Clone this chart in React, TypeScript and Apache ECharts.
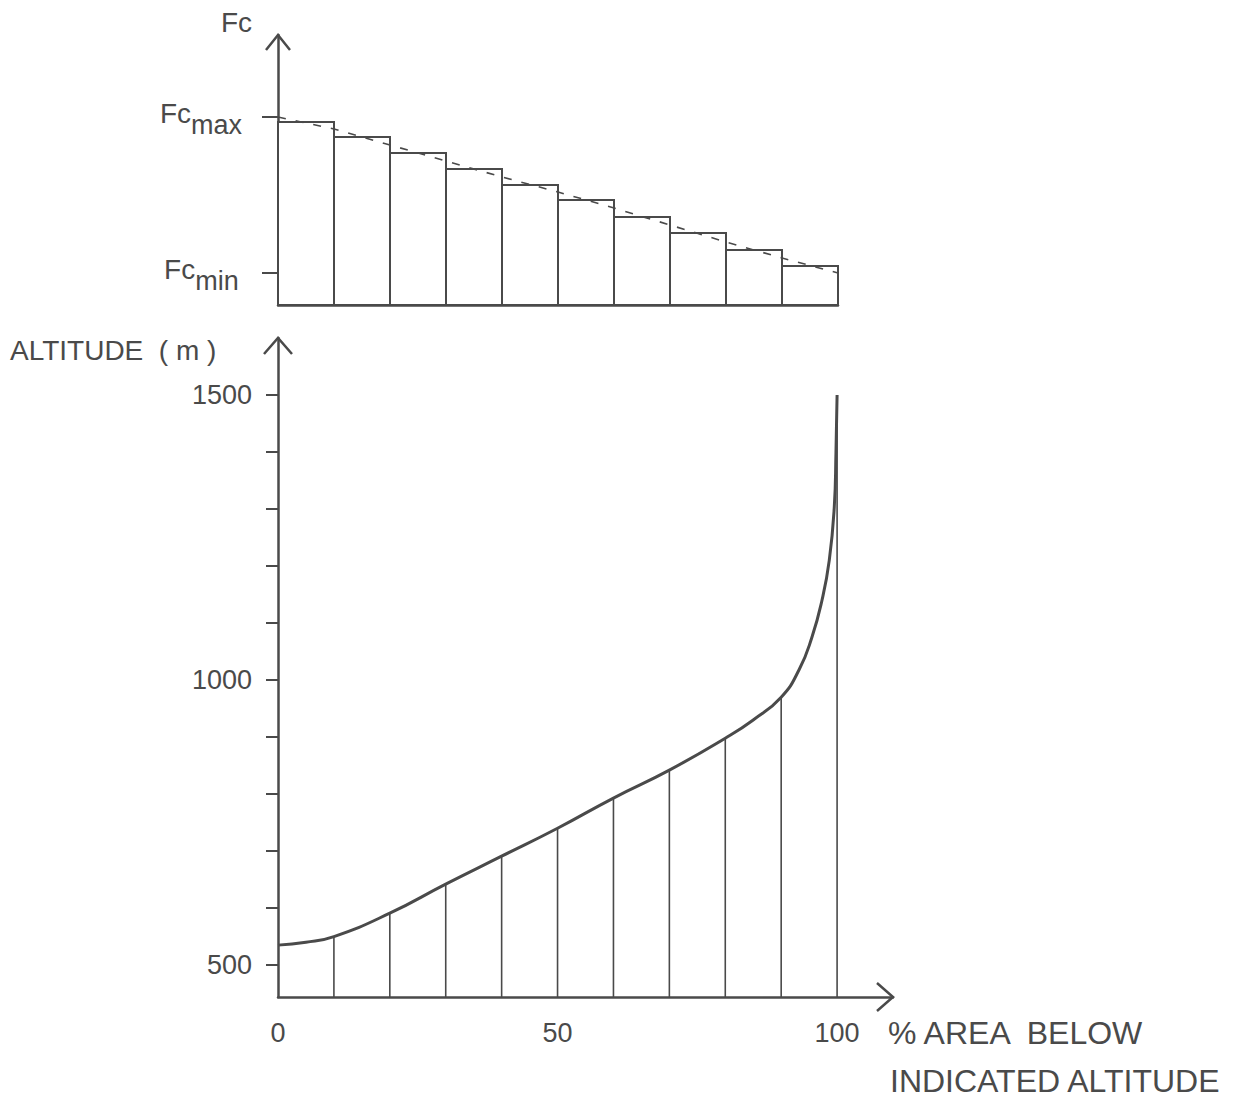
import React, { useEffect, useRef } from "react";
import * as echarts from "echarts";

// ---- Data ----
// Top panel: Fc histogram per 10 % band of area
const binStarts = [0, 10, 20, 30, 40, 50, 60, 70, 80, 90];
const binEnd = 100;
const fcBars = [183, 168, 152, 136, 120, 105, 88, 72, 55, 39];
const fcTrendX = [0, 10, 20, 30, 40, 50, 60, 70, 80, 90, 100];
const fcTrendY = [188, 176, 160, 144, 128, 113, 97, 80, 63, 47, 32];
const fcMax = 188;
const fcMin = 32;

// Bottom panel: hypsometric curve
const areaPct = [0, 5, 10, 20, 30, 40, 50, 60, 70, 80, 85, 90, 93.2, 95.5, 97.3, 98.6, 99.5, 99.8, 100];
const altitude = [535, 540, 550, 591, 642, 691, 740, 793, 842, 898, 930, 970, 1018, 1075, 1140, 1210, 1304, 1400, 1500];
const dropX = [10, 20, 30, 40, 50, 60, 70, 80, 90, 100];
const dropY = [550, 591, 642, 691, 740, 793, 842, 898, 970, 1500];
const altTicks = [500, 600, 700, 800, 900, 1000, 1100, 1200, 1300, 1400, 1500];
const altLabels = [500, 1000, 1500];
const pctLabels = [0, 50, 100];

const INK = "#4a4a4a";
const FONT = "Liberation Sans";

export default function App() {
  const ref = useRef<HTMLDivElement>(null);

  useEffect(() => {
    if (!ref.current) return;
    const chart = echarts.init(ref.current, undefined, { renderer: "svg" });

    const topGrid = { left: 278, top: 35, width: 560, height: 270 };
    const botGrid = { left: 278, top: 338, width: 615, height: 659 };

    const arrowUp = (x: number, y: number, w: number, h: number) => ({
      type: "polyline",
      shape: { points: [[x - w, y + h], [x, y], [x + w, y + h]] },
      style: { stroke: INK, lineWidth: 2.5, fill: "none" },
    });
    const arrowRight = (x: number, y: number, w: number, h: number) => ({
      type: "polyline",
      shape: { points: [[x - w, y - h], [x, y], [x - w, y + h]] },
      style: { stroke: INK, lineWidth: 2.5, fill: "none" },
    });
    const txt = (x: number, y: number, s: string, size: number, align = "left") => ({
      type: "text",
      x,
      y,
      style: {
        text: s,
        fill: INK,
        font: `${size}px "${FONT}"`,
        textAlign: align,
        textVerticalAlign: "middle",
      },
    });

    const option: any = {
      animation: false,
      grid: [
        { ...topGrid, containLabel: false },
        { ...botGrid, containLabel: false },
      ],
      xAxis: [
        {
          type: "value",
          gridIndex: 0,
          min: 0,
          max: 100,
          axisLine: { onZero: false, lineStyle: { color: INK, width: 2.5 } },
          axisTick: { show: false },
          axisLabel: { show: false },
          splitLine: { show: false },
        },
        {
          type: "value",
          gridIndex: 1,
          min: 0,
          max: 110,
          axisLine: { onZero: false, lineStyle: { color: INK, width: 2.5 } },
          axisTick: { show: false },
          axisLabel: {
            customValues: pctLabels,
            margin: 22,
            color: INK,
            fontSize: 27,
            fontFamily: FONT,
            formatter: (v: number) => String(v),
          },
          splitLine: { show: false },
        },
      ],
      yAxis: [
        {
          type: "value",
          gridIndex: 0,
          min: 0,
          max: 270,
          axisLine: { show: true, onZero: false, lineStyle: { color: INK, width: 2.5 } },
          axisTick: { show: true, customValues: [fcMin, fcMax], length: 16, lineStyle: { color: INK, width: 2 } },
          axisLabel: {
            customValues: [fcMin, fcMax],
            margin: 36,
            formatter: (v: number) => (v === fcMax ? "{a|Fc}{b|max}" : "{a|Fc}{b|min} "),
            rich: {
              a: { fontSize: 28, color: INK, fontFamily: FONT, padding: [0, 0, 8, 0] },
              b: { fontSize: 27, color: INK, fontFamily: FONT, padding: [16, 0, 0, 0] },
            },
          },
          splitLine: { show: false },
        },
        {
          type: "value",
          gridIndex: 1,
          min: 444,
          max: 1600,
          axisLine: { show: true, onZero: false, lineStyle: { color: INK, width: 2.5 } },
          axisTick: { show: true, customValues: altTicks, length: 12, lineStyle: { color: INK, width: 2 } },
          axisLabel: {
            customValues: altLabels,
            margin: 26,
            color: INK,
            fontSize: 27,
            fontFamily: FONT,
            formatter: (v: number) => String(v),
          },
          splitLine: { show: false },
        },
      ],
      series: [
        {
          type: "custom",
          xAxisIndex: 0,
          yAxisIndex: 0,
          data: binStarts.map((s, i) => [s, i < binStarts.length - 1 ? binStarts[i + 1] : binEnd, fcBars[i]]),
          encode: { x: [0, 1], y: 2 },
          renderItem: (params: any, api: any) => {
            const p0 = api.coord([api.value(0), 0]);
            const p1 = api.coord([api.value(1), api.value(2)]);
            return {
              type: "rect",
              shape: { x: p0[0], y: p1[1], width: p1[0] - p0[0], height: p0[1] - p1[1] },
              style: { fill: "#fff", stroke: INK, lineWidth: 2 },
            };
          },
          z: 2,
        },
        {
          type: "line",
          xAxisIndex: 0,
          yAxisIndex: 0,
          data: fcTrendX.map((x, i) => [x, fcTrendY[i]]),
          showSymbol: false,
          symbol: "none",
          lineStyle: { color: INK, width: 1.6, type: [8, 10] },
          z: 3,
        },
        {
          type: "custom",
          xAxisIndex: 1,
          yAxisIndex: 1,
          data: dropX.map((x, i) => [x, dropY[i]]),
          renderItem: (params: any, api: any) => {
            const top = api.coord([api.value(0), api.value(1)]);
            const bottom = params.coordSys.y + params.coordSys.height;
            return {
              type: "line",
              shape: { x1: top[0], y1: top[1], x2: top[0], y2: bottom },
              style: { stroke: INK, lineWidth: 1.6 },
            };
          },
          z: 2,
        },
        {
          type: "line",
          xAxisIndex: 1,
          yAxisIndex: 1,
          data: areaPct.map((x, i) => [x, altitude[i]]),
          smooth: 0.5,
          showSymbol: false,
          symbol: "none",
          lineStyle: { color: INK, width: 3 },
          z: 3,
        },
      ],
      graphic: [
        arrowUp(topGrid.left, topGrid.top, 12, 15),
        arrowUp(botGrid.left, botGrid.top, 14, 16),
        arrowRight(botGrid.left + botGrid.width, botGrid.top + botGrid.height, 16, 14),
        txt(252, 22, "Fc", 28, "right"),
        txt(10, 350, "ALTITUDE  ( m )", 28, "left"),
        txt(888, 1033, "% AREA  BELOW", 32, "left"),
        txt(890, 1081, "INDICATED ALTITUDE", 32, "left"),
      ],
    };

    chart.setOption(option);
    return () => chart.dispose();
  }, []);

  return (
    <div
      ref={ref}
      style={{ position: "absolute", left: 0, top: 0, width: 1235, height: 1098, background: "#fff" }}
    />
  );
}
